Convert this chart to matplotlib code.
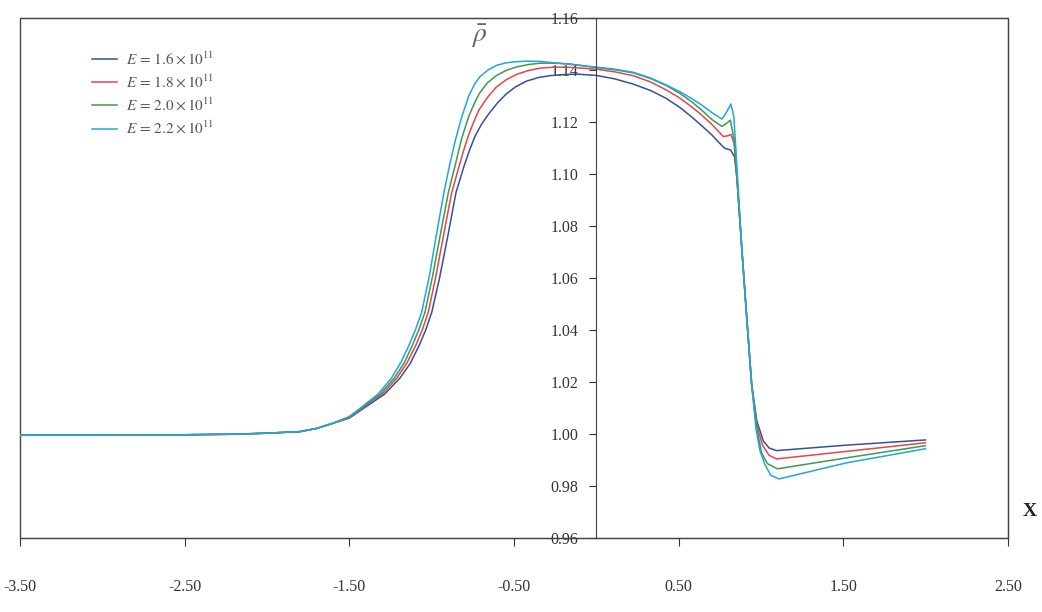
import matplotlib
matplotlib.use("Agg")
import matplotlib.pyplot as plt
from matplotlib.patches import Rectangle

plt.rcParams['font.family'] = ['Liberation Serif', 'DejaVu Serif']
plt.rcParams['mathtext.fontset'] = 'stix'
plt.rcParams['axes.unicode_minus'] = False

labels = [r'$E\,=\,1.6\times10^{11}$', r'$E\,=\,1.8\times10^{11}$',
          r'$E\,=\,2.0\times10^{11}$', r'$E\,=\,2.2\times10^{11}$']
colors = ['#34509e', '#e8444a', '#3d9a4f', '#21a6e0']

x_e16 = [-3.5, -3.0, -2.5, -2.2, -2.0, -1.8, -1.7, -1.6, -1.5, -1.43, -1.286, -1.192, -1.13,
         -1.075, -1.035, -0.999, -0.953, -0.90, -0.852, -0.803, -0.77, -0.737, -0.695, -0.652,
         -0.60, -0.548, -0.49, -0.424, -0.35, -0.282, -0.2, -0.119, 0.0, 0.11, 0.223, 0.33,
         0.424, 0.51, 0.582, 0.645, 0.701, 0.745, 0.78, 0.816, 0.84, 0.855, 0.885, 0.914, 0.944,
         0.975, 1.015, 1.05, 1.095, 1.52, 2.0]
y_e16 = [0.9994, 0.9994, 0.9996, 0.9998, 1.0002, 1.0008, 1.0020, 1.0040, 1.0060, 1.0090, 1.0152,
         1.0214, 1.0270, 1.0340, 1.0400, 1.0467, 1.0595, 1.0765, 1.0927, 1.1029, 1.1090, 1.1143,
         1.1192, 1.1231, 1.1272, 1.1306, 1.1334, 1.1356, 1.1370, 1.1377, 1.1381, 1.1383, 1.1378,
         1.1365, 1.1345, 1.1320, 1.1290, 1.1254, 1.1217, 1.1182, 1.1150, 1.1120, 1.1098, 1.1091,
         1.1065, 1.0980, 1.0705, 1.0448, 1.0190, 1.0050, 0.9972, 0.9945, 0.9935, 0.9956, 0.9976]

x_e18 = [-3.5, -3.0, -2.5, -2.2, -2.0, -1.8, -1.7, -1.6, -1.5, -1.437, -1.30, -1.21, -1.15,
         -1.095, -1.055, -1.02, -0.973, -0.925, -0.878, -0.833, -0.805, -0.778, -0.745, -0.7125,
         -0.66, -0.607, -0.545, -0.484, -0.41, -0.341, -0.25, -0.159, 0.0, 0.11, 0.2245, 0.33,
         0.425, 0.51, 0.584, 0.645, 0.703, 0.772, 0.80, 0.819, 0.8375, 0.855, 0.885, 0.914, 0.944,
         0.975, 1.01, 1.05, 1.095, 1.55, 2.0]
y_e18 = [0.9994, 0.9994, 0.9996, 0.9998, 1.0002, 1.0008, 1.0020, 1.0040, 1.0062, 1.0090, 1.0152,
         1.0215, 1.0272, 1.0341, 1.0402, 1.0468, 1.0609, 1.0772, 1.0927, 1.1029, 1.1090, 1.1144,
         1.1198, 1.1245, 1.1294, 1.1333, 1.1362, 1.1382, 1.1397, 1.1406, 1.1410, 1.1409, 1.1402,
         1.1392, 1.1377, 1.1353, 1.1322, 1.1290, 1.1255, 1.1223, 1.1189, 1.1143, 1.1146, 1.1151,
         1.1116, 1.0980, 1.0705, 1.0448, 1.0190, 1.0035, 0.9955, 0.9917, 0.9903, 0.9934, 0.9965]

x_e20 = [-3.5, -3.0, -2.5, -2.2, -2.0, -1.8, -1.7, -1.6, -1.5, -1.443, -1.313, -1.225, -1.165,
         -1.115, -1.075, -1.04, -0.993, -0.945, -0.898, -0.853, -0.819, -0.774, -0.74, -0.710,
         -0.66, -0.605, -0.545, -0.482, -0.41, -0.340, -0.25, -0.158, 0.0, 0.11, 0.225, 0.33,
         0.426, 0.51, 0.585, 0.645, 0.7035, 0.763, 0.79, 0.815, 0.838, 0.855, 0.885, 0.914, 0.944,
         0.975, 1.005, 1.04, 1.10, 1.55, 2.0]
y_e20 = [0.9994, 0.9994, 0.9996, 0.9998, 1.0002, 1.0008, 1.0020, 1.0040, 1.0064, 1.0090, 1.0152,
         1.0215, 1.0274, 1.0342, 1.0404, 1.0468, 1.0609, 1.0772, 1.0928, 1.1042, 1.1132, 1.1221,
         1.1271, 1.1309, 1.1350, 1.1378, 1.1398, 1.1411, 1.1420, 1.1425, 1.1425, 1.1422, 1.1408,
         1.1400, 1.1388, 1.1366, 1.1339, 1.1308, 1.1274, 1.1242, 1.1208, 1.1182, 1.1193, 1.1206,
         1.1129, 1.0980, 1.0705, 1.0448, 1.0190, 1.0020, 0.9925, 0.9885, 0.9865, 0.9910, 0.9954]

x_e22 = [-3.5, -3.0, -2.5, -2.2, -2.0, -1.8, -1.7, -1.6, -1.5, -1.45, -1.326, -1.2425, -1.185,
         -1.136, -1.095, -1.06, -1.013, -0.97, -0.925, -0.89, -0.855, -0.82, -0.775, -0.74,
         -0.707, -0.655, -0.604, -0.55, -0.502, -0.42, -0.34, -0.199, 0.0, 0.11, 0.225, 0.33,
         0.426, 0.51, 0.585, 0.645, 0.705, 0.764, 0.79, 0.818, 0.836, 0.850, 0.857, 0.885, 0.914,
         0.944, 0.970, 0.995, 1.025, 1.06, 1.11, 1.52, 2.0]
y_e22 = [0.9994, 0.9994, 0.9996, 0.9998, 1.0002, 1.0008, 1.0020, 1.0040, 1.0066, 1.0090, 1.0152,
         1.0215, 1.0276, 1.0342, 1.0405, 1.0468, 1.0609, 1.0768, 1.0928, 1.1035, 1.1130, 1.1212,
         1.1298, 1.1343, 1.1373, 1.1400, 1.1417, 1.1426, 1.1430, 1.1433, 1.1432, 1.1423, 1.1410,
         1.1402, 1.1390, 1.1368, 1.1341, 1.1315, 1.1287, 1.1262, 1.1234, 1.1210, 1.1235, 1.1268,
         1.1219, 1.1077, 1.1000, 1.0705, 1.0448, 1.0190, 1.0020, 0.9933, 0.9881, 0.9840, 0.9826,
         0.9888, 0.9942]

xs = [x_e16, x_e18, x_e20, x_e22]
ys = [y_e16, y_e18, y_e20, y_e22]

x_ticks = [-3.5, -2.5, -1.5, -0.5, 0.5, 1.5, 2.5]
y_ticks = [0.96, 0.98, 1.00, 1.02, 1.04, 1.06, 1.08, 1.10, 1.12, 1.14, 1.16]

fig = plt.figure(figsize=(10.42, 6.12), dpi=100)
ax = fig.add_axes([0.0192, 0.1214, 0.948, 0.8497])

for x, y, c, lab in zip(xs, ys, colors, labels):
    ax.plot(x, y, color=c, lw=1.1, label=lab)

ax.set_xlim(-3.5, 2.5)
ax.set_ylim(0.96, 1.16)
ax.set_xticks(x_ticks)
ax.set_xticklabels(['%.2f' % v for v in x_ticks])
ax.set_yticks(y_ticks)
ax.set_yticklabels(['%.2f' % v for v in y_ticks])

# y axis sits on x = 0, the frame is drawn as a box around the axes
ax.spines['left'].set_position(('data', 0))
for s in ['left', 'top', 'right', 'bottom']:
    ax.spines[s].set_color('#444444')
ax.add_patch(Rectangle((0, 0), 1, 1, transform=ax.transAxes, fill=False,
                       edgecolor='#444444', lw=1.0, clip_on=False))

ax.tick_params(axis='x', direction='out', length=6, pad=24, labelsize=11.5, colors='#333333')
ax.tick_params(axis='y', direction='out', length=5, pad=8, labelsize=11.5, colors='#333333')

ax.text(-0.71, 1.153, r'$\bar{\rho}$', fontsize=20, color='#666666',
        ha='center', va='center')
ax.text(2.63, 0.97, 'X', fontsize=14, fontweight='bold', color='#222222',
        ha='center', va='center', clip_on=False)

leg = ax.legend(loc='upper left', bbox_to_anchor=(0.073, 0.937), frameon=False,
                fontsize=11, labelspacing=0.4, handlelength=1.6, handletextpad=0.6,
                borderpad=0, borderaxespad=0)
for t in leg.get_texts():
    t.set_color('#555555')

fig.savefig('out.png', dpi=100)
